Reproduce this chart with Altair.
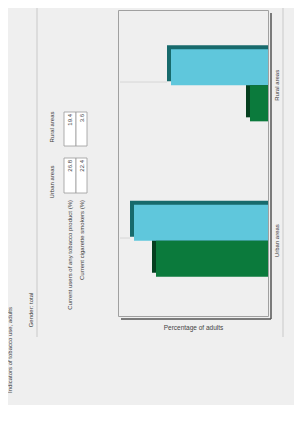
import altair as alt
import pandas as pd

# ---- data (text labels are estimates) ----
categories = ["Rural areas", "Urban areas"]          # top to bottom in the rotated view
series_names = ["Current users of any tobacco product (%)", "Current cigarette smokers (%)"]
any_tobacco = [19.4, 26.8]
cigarettes = [3.6, 22.4]
table_columns = ["Urban areas", "Rural areas"]       # original left-to-right order
chart_title = "Indicators of tobacco use, adults"
chart_subtitle = "Gender: total"
axis_title = "Percentage of adults"

FONT = "Liberation Sans"
TXT = "#3a3a3a"
blue, blue_dark = "#5fc7dc", "#176a6c"
green, green_dark = "#0b7a3c", "#053f1f"

df = pd.DataFrame({
    "category": categories * 2,
    "series": [series_names[0]] * 2 + [series_names[1]] * 2,
    "value": any_tobacco + cigarettes,
})

yenc = alt.Y(
    "category:N", sort=categories,
    scale=alt.Scale(paddingInner=0.5, paddingOuter=0.235),
    axis=alt.Axis(orient="right", title=None, labelAngle=270, labelAlign="center",
                  labelBaseline="middle", labelPadding=8, ticks=False, domain=False,
                  labelFontSize=6, labelColor=TXT, labelFont=FONT),
)
xenc = alt.X(
    "value:Q",
    scale=alt.Scale(domain=[0, 30], reverse=True, nice=False),
    axis=alt.Axis(labels=False, ticks=False, domain=False, grid=False, title=axis_title,
                  titlePadding=8, titleFontSize=6.5, titleColor="#444", titleFont=FONT,
                  titleFontWeight="normal"),
)


def bars(sname, color, yoff, shadow=False):
    if shadow:
        return (
            alt.Chart(df)
            .transform_filter(alt.datum.series == sname)
            .mark_bar(color=color, size=36, yOffset=yoff, xOffset=-4)
            .encode(x=xenc, x2=alt.X2(datum=0), y=yenc)
        )
    return (
        alt.Chart(df)
        .transform_filter(alt.datum.series == sname)
        .mark_bar(color=color, size=36, yOffset=yoff)
        .encode(x=xenc, y=yenc)
    )


one = pd.DataFrame({"a": [0]})


def rule(x, x2, y, y2, color, w=1):
    return alt.Chart(one).mark_rule(color=color, strokeWidth=w).encode(
        x=alt.value(x), x2=alt.value(x2), y=alt.value(y), y2=alt.value(y2))


def label(text, x, y, align="center", size=6, weight="normal"):
    return alt.Chart(pd.DataFrame({"t": [text]})).mark_text(
        angle=270, align=align, baseline="middle", fontSize=size, font=FONT,
        color=TXT, fontWeight=weight,
    ).encode(text="t:N", x=alt.value(x), y=alt.value(y))


layers = [
    rule(-81, -81, -2, 327, "#c9c9c9"),
    rule(165, 165, -2, 327, "#c9c9c9"),
    rule(153, 153, 3, 309, "#555555", 1.5),
    rule(3, 153, 309, 309, "#555555", 1.5),
    rule(2, 49, 72, 72, "#d6d6d6"),
    rule(2, 12, 228, 228, "#d6d6d6"),
    bars(series_names[0], blue_dark, -22, shadow=True),
    bars(series_names[1], green_dark, 14, shadow=True),
    bars(series_names[0], blue, -18),
    bars(series_names[1], green, 18),
    label(chart_title, -108, 340),
    label(chart_subtitle, -87, 300),
]

# table: headers, cells and row labels
col_y_top = {table_columns[0]: 148, table_columns[1]: 102}
col_y_bot = {table_columns[0]: 183, table_columns[1]: 136}
col_y_mid = {table_columns[0]: 172, table_columns[1]: 117}
row_x = [(-54, -42), (-42, -31)]
row_vals = [any_tobacco, cigarettes]
for c in table_columns:
    layers.append(label(c, -66, col_y_mid[c]))
for r, (x0, x1) in enumerate(row_x):
    layers.append(label(series_names[r], (x0 + x1) / 2, 190, align="right"))
    for c in table_columns:
        layers.append(
            alt.Chart(one).mark_rect(fill="white", stroke="#9a9a9a", strokeWidth=0.8).encode(
                x=alt.value(x0), x2=alt.value(x1), y=alt.value(col_y_top[c]), y2=alt.value(col_y_bot[c]))
        )
        v = row_vals[r][categories.index(c)]
        layers.append(label(f"{v:.1f}", (x0 + x1) / 2, col_y_top[c] + 2, align="right"))

chart = (
    alt.layer(*layers)
    .properties(
        width=150, height=306,
        padding={"left": 110, "top": 2, "right": 26, "bottom": 89},
        autosize=alt.AutoSizeParams(type="none"),
        background="#efefef",
    )
    .configure_view(stroke="#a0a0a0", strokeWidth=1)
)

chart.save("out.html", embed_options={"renderer": "svg", "actions": False})
